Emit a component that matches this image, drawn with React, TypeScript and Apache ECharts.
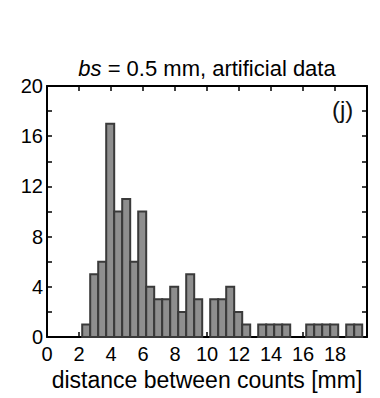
import React, { useEffect, useRef } from "react";
import * as echarts from "echarts";

// Bin edges (mm) and counts per bin
const BIN_LEFT = [
  2.2, 2.7, 3.2, 3.7, 4.2, 4.7, 5.2, 5.7, 6.2, 6.7, 7.2, 7.7, 8.2, 8.7, 9.2, 9.7,
  10.2, 10.7, 11.2, 11.7, 12.2, 12.7, 13.2, 13.7, 14.2, 14.7, 15.2, 15.7, 16.2,
  16.7, 17.2, 17.7, 18.2, 18.7, 19.2,
];
const BIN_RIGHT = [
  2.7, 3.2, 3.7, 4.2, 4.7, 5.2, 5.7, 6.2, 6.7, 7.2, 7.7, 8.2, 8.7, 9.2, 9.7, 10.2,
  10.7, 11.2, 11.7, 12.2, 12.7, 13.2, 13.7, 14.2, 14.7, 15.2, 15.7, 16.2, 16.7,
  17.2, 17.7, 18.2, 18.7, 19.2, 19.7,
];
const COUNTS = [
  1, 5, 6, 17, 10, 11, 6, 10, 4, 3, 3, 4, 2, 5, 3, 0,
  3, 3, 4, 2, 1, 0, 1, 1, 1, 1, 0, 0, 1,
  1, 1, 1, 0, 1, 1,
];
const X_TICKS_LABELLED = [0, 2, 4, 6, 8, 10, 12, 14, 16, 18];
const Y_TICKS_LABELLED = [0, 4, 8, 12, 16, 20];

const TITLE_ITALIC = "bs";
const TITLE_REST = " = 0.5 mm, artificial data";
const X_NAME = "distance between counts [mm]";
const PANEL_LABEL = "(j)";

const FONT = "Arial, 'Liberation Sans', Helvetica, sans-serif";

export default function App() {
  const ref = useRef<HTMLDivElement>(null);

  useEffect(() => {
    if (!ref.current) return;
    const chart = echarts.init(ref.current, undefined, { renderer: "svg" });

    const data = COUNTS.map((c, i) => [BIN_LEFT[i], BIN_RIGHT[i], c]);

    const axisLine = { show: true, onZero: false, lineStyle: { color: "#000", width: 2 } };
    const axisTick = { show: true, inside: true, length: 5, lineStyle: { color: "#000", width: 1.5 } };

    const option: any = {
      animation: false,
      backgroundColor: "#fff",
      grid: { left: 47, right: 13, top: 86, bottom: 61, containLabel: false },
      graphic: [
        {
          type: "text",
          x: 207,
          y: 57,
          style: {
            text: `{i|${TITLE_ITALIC}}${TITLE_REST}`,
            align: "center",
            verticalAlign: "top",
            fontSize: 22,
            fontFamily: FONT,
            fill: "#000",
            rich: {
              i: { fontStyle: "italic", fontSize: 22, fontFamily: FONT, fill: "#000" },
            },
          },
        },
        {
          type: "text",
          x: 332,
          y: 97,
          style: {
            text: PANEL_LABEL,
            align: "left",
            verticalAlign: "top",
            fontSize: 24,
            fontFamily: FONT,
            fill: "#111",
          },
        },
      ],
      xAxis: [
        {
          type: "value",
          min: 0,
          max: 20,
          interval: 2,
          position: "bottom",
          axisLine,
          axisTick,
          splitLine: { show: false },
          axisLabel: {
            fontSize: 20,
            fontFamily: FONT,
            color: "#000",
            margin: 7,
            formatter: (v: number) => (X_TICKS_LABELLED.includes(v) ? String(v) : ""),
          },
          name: X_NAME,
          nameLocation: "middle",
          nameGap: 25,
          nameTextStyle: { fontSize: 23, fontFamily: FONT, color: "#000" },
        },
        {
          type: "value",
          min: 0,
          max: 20,
          interval: 2,
          position: "top",
          axisLine,
          axisTick,
          splitLine: { show: false },
          axisLabel: { show: false },
        },
      ],
      yAxis: [
        {
          type: "value",
          min: 0,
          max: 20,
          interval: 2,
          position: "left",
          axisLine,
          axisTick,
          splitLine: { show: false },
          axisLabel: {
            fontSize: 20,
            fontFamily: FONT,
            color: "#000",
            margin: 4,
            formatter: (v: number) => (Y_TICKS_LABELLED.includes(v) ? String(v) : ""),
          },
        },
        {
          type: "value",
          min: 0,
          max: 20,
          interval: 2,
          position: "right",
          axisLine,
          axisTick,
          splitLine: { show: false },
          axisLabel: { show: false },
        },
      ],
      series: [
        {
          type: "custom",
          xAxisIndex: 0,
          yAxisIndex: 0,
          encode: { x: [0, 1], y: 2 },
          data,
          renderItem: (params: any, api: any) => {
            const x0 = api.value(0);
            const x1 = api.value(1);
            const v = api.value(2);
            if (!v) return null;
            const p0 = api.coord([x0, v]);
            const p1 = api.coord([x1, 0]);
            return {
              type: "rect",
              shape: { x: p0[0], y: p0[1], width: p1[0] - p0[0], height: p1[1] - p0[1] },
              style: { fill: "#8e8e8e", stroke: "#3a3a3a", lineWidth: 2 },
            };
          },
        },
      ],
    };

    chart.setOption(option);
    return () => chart.dispose();
  }, []);

  return (
    <div
      ref={ref}
      style={{ position: "fixed", left: 0, top: 0, width: 380, height: 398, background: "#fff" }}
    />
  );
}
